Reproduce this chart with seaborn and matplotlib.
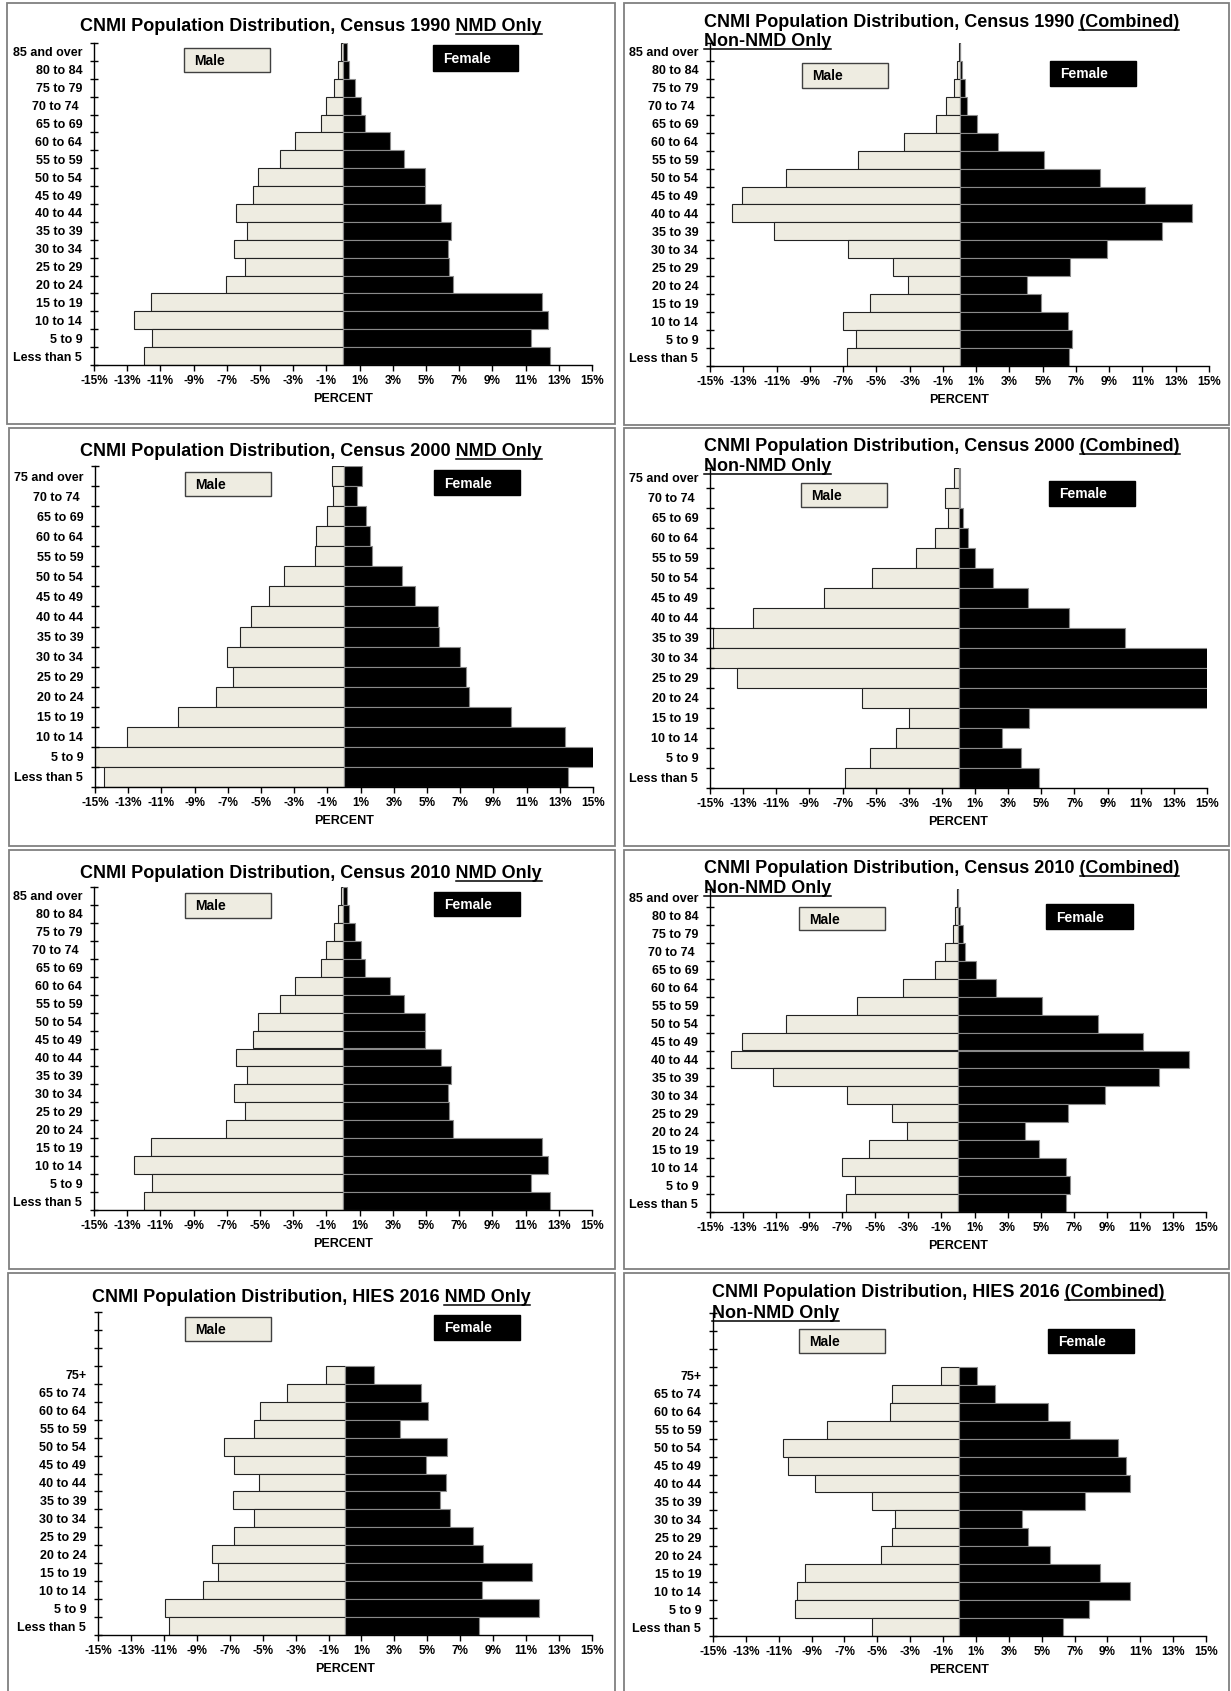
import numpy as np
import pandas as pd
import matplotlib
matplotlib.use("Agg")
import matplotlib.pyplot as plt
import seaborn as sns
from matplotlib.patches import Rectangle
from matplotlib.lines import Line2D

# ---------------- data ----------------
ages_18 = ["85 and over", "80 to 84", "75 to 79", "70 to 74 ", "65 to 69", "60 to 64",
           "55 to 59", "50 to 54", "45 to 49", "40 to 44", "35 to 39", "30 to 34",
           "25 to 29", "20 to 24", "15 to 19", "10 to 14", "5 to 9", "Less than 5"]
ages_16 = ["75 and over", "70 to 74 ", "65 to 69", "60 to 64", "55 to 59", "50 to 54",
           "45 to 49", "40 to 44", "35 to 39", "30 to 34", "25 to 29", "20 to 24",
           "15 to 19", "10 to 14", "5 to 9", "Less than 5"]
ages_hies = ["75+", "65 to 74", "60 to 64", "55 to 59", "50 to 54", "45 to 49",
             "40 to 44", "35 to 39", "30 to 34", "25 to 29", "20 to 24", "15 to 19",
             "10 to 14", "5 to 9", "Less than 5"]

male_1990_nmd = [0.12, 0.28, 0.57, 1.0, 1.32, 2.88, 3.82, 5.14, 5.45, 6.42, 5.78, 6.58,
                 5.92, 7.05, 11.58, 12.59, 11.51, 11.96]
female_1990_nmd = [0.22, 0.38, 0.75, 1.08, 1.32, 2.83, 3.7, 4.93, 4.93, 5.9, 6.49, 6.3,
                   6.37, 6.65, 11.98, 12.36, 11.34, 12.45]
male_1990_non = [0.05, 0.17, 0.31, 0.8, 1.42, 3.35, 6.1, 10.42, 13.07, 13.7, 11.18, 6.7,
                 3.99, 3.11, 5.38, 7.0, 6.25, 6.75]
female_1990_non = [0.03, 0.14, 0.31, 0.45, 1.06, 2.29, 5.07, 8.47, 11.16, 13.99, 12.17, 8.87,
                   6.63, 4.06, 4.88, 6.51, 6.79, 6.56]

male_2000_nmd = [0.71, 0.69, 1.04, 1.7, 1.77, 3.64, 4.49, 5.6, 6.24, 7.04, 6.69, 7.72,
                 9.99, 13.09, 15.4, 14.46]
female_2000_nmd = [1.06, 0.78, 1.32, 1.58, 1.7, 3.47, 4.3, 5.65, 5.72, 6.97, 7.37, 7.54,
                   10.04, 13.32, 15.3, 13.49]
male_2000_non = [0.26, 0.83, 0.64, 1.44, 2.58, 5.23, 8.09, 12.4, 14.81, 15.6, 13.37, 5.8,
                 2.96, 3.79, 5.35, 6.86]
female_2000_non = [0.12, 0.09, 0.28, 0.59, 0.99, 2.1, 4.19, 6.67, 10.05, 17.5, 16.8, 15.9,
                   4.26, 2.63, 3.76, 4.87]

male_2010_nmd = [0.12, 0.28, 0.57, 1.0, 1.32, 2.88, 3.82, 5.14, 5.45, 6.42, 5.78, 6.58,
                 5.92, 7.05, 11.58, 12.59, 11.51, 11.96]
female_2010_nmd = [0.22, 0.38, 0.75, 1.08, 1.32, 2.83, 3.7, 4.93, 4.93, 5.9, 6.49, 6.3,
                   6.37, 6.65, 11.98, 12.36, 11.34, 12.45]
male_2010_non = [0.05, 0.17, 0.31, 0.8, 1.42, 3.35, 6.1, 10.42, 13.07, 13.7, 11.18, 6.7,
                 3.99, 3.11, 5.38, 7.0, 6.25, 6.75]
female_2010_non = [0.03, 0.14, 0.31, 0.45, 1.06, 2.29, 5.07, 8.47, 11.16, 13.99, 12.17, 8.87,
                   6.63, 4.06, 4.88, 6.51, 6.79, 6.56]

male_2016_nmd = [1.17, 3.5, 5.14, 5.52, 7.33, 6.76, 5.21, 6.81, 5.52, 6.76, 8.1, 7.69,
                 8.64, 10.95, 10.67]
female_2016_nmd = [1.76, 4.62, 5.07, 3.33, 6.19, 4.9, 6.14, 5.79, 6.36, 7.76, 8.4, 11.33,
                   8.33, 11.76, 8.12]
male_2016_non = [1.14, 4.1, 4.22, 8.08, 10.76, 10.42, 8.78, 5.34, 3.94, 4.08, 4.75, 9.4,
                 9.87, 10.02, 5.34]
female_2016_non = [1.07, 2.15, 5.37, 6.7, 9.66, 10.14, 10.37, 7.61, 3.79, 4.15, 5.53, 8.56,
                   10.37, 7.85, 6.27]

x_ticks = list(range(-15, 16, 2))
x_tick_labels = [f"{t}%" for t in x_ticks]

title_left = ["CNMI Population Distribution, Census 1990 NMD Only",
              "CNMI Population Distribution, Census 2000 NMD Only",
              "CNMI Population Distribution, Census 2010 NMD Only",
              "CNMI Population Distribution, HIES 2016 NMD Only"]
title_right = ["CNMI Population Distribution, Census 1990 (Combined)",
               "CNMI Population Distribution, Census 2000 (Combined)",
               "CNMI Population Distribution, Census 2010 (Combined)",
               "CNMI Population Distribution, HIES 2016 (Combined)"]

# ---------------- style ----------------
plt.rcParams["font.family"] = ["Liberation Sans", "DejaVu Sans"]
plt.rcParams["font.weight"] = "bold"
MALE_C = "#EEECE1"
FEMALE_C = "#000000"

W, H = 1231, 1691
fig = plt.figure(figsize=(W / 100, H / 100), dpi=100)
fig.patch.set_facecolor("white")


def fx(px):
    return px / W


def fy(py):
    return 1 - py / H


def rect(x0, y0, x1, y1, **kw):
    fig.add_artist(Rectangle((fx(x0), fy(y1)), (x1 - x0) / W, (y1 - y0) / H,
                             transform=fig.transFigure, **kw))


# panel frames
frames = [(7, 3, 615, 424), (624, 3, 1229, 425),
          (9, 428, 615, 846), (624, 428, 1229, 846),
          (9, 850, 615, 1269), (624, 850, 1229, 1269),
          (8, 1273, 615, 1705), (624, 1273, 1229, 1705)]
for f in frames:
    rect(*f, facecolor="none", edgecolor="#808080", lw=1.3)

panels = [
    dict(ages=ages_18, m=male_1990_nmd, f=female_1990_nmd, empty=0, box=(94, 43, 592, 365)),
    dict(ages=ages_18, m=male_1990_non, f=female_1990_non, empty=0, box=(710, 43, 1209, 366)),
    dict(ages=ages_16, m=male_2000_nmd, f=female_2000_nmd, empty=0, box=(95, 466, 593, 787)),
    dict(ages=ages_16, m=male_2000_non, f=female_2000_non, empty=0, box=(710, 468, 1207, 788)),
    dict(ages=ages_18, m=male_2010_nmd, f=female_2010_nmd, empty=0, box=(94, 887, 592, 1210)),
    dict(ages=ages_18, m=male_2010_non, f=female_2010_non, empty=0, box=(710, 889, 1206, 1212)),
    dict(ages=ages_hies, m=male_2016_nmd, f=female_2016_nmd, empty=3, box=(98, 1312, 592, 1635)),
    dict(ages=ages_hies, m=male_2016_non, f=female_2016_non, empty=3, box=(713, 1313, 1206, 1636)),
]

legend_boxes = [((184, 48, 270, 72), (433, 45, 518, 71)),
                ((802, 63, 888, 88), (1050, 61, 1136, 86)),
                ((185, 472, 271, 496), (434, 470, 520, 495)),
                ((801, 483, 887, 507), (1049, 481, 1135, 506)),
                ((185, 893, 271, 918), (434, 892, 520, 916)),
                ((799, 907, 885, 930), (1046, 904, 1133, 929)),
                ((185, 1317, 271, 1341), (434, 1315, 520, 1340)),
                ((799, 1329, 885, 1353), (1048, 1329, 1134, 1353))]

for p in panels:
    x0, y0, x1, y1 = p["box"]
    ax = fig.add_axes([fx(x0), fy(y1), (x1 - x0) / W, (y1 - y0) / H])
    ax.set_facecolor("none")
    ages = p["ages"]
    n = len(ages)
    df = pd.DataFrame({"age": ages,
                       "male": [-v for v in p["m"]],
                       "female": p["f"]})
    sns.barplot(data=df, y="age", x="male", order=ages, color=MALE_C, saturation=1,
                width=1.0, edgecolor="#222222", linewidth=0.8, errorbar=None,
                orient="h", ax=ax)
    sns.barplot(data=df, y="age", x="female", order=ages, color=FEMALE_C, saturation=1,
                width=1.0, edgecolor="#8a8a8a", linewidth=0.8, errorbar=None,
                orient="h", ax=ax)
    ax.set_xlim(-15, 15)
    ax.set_ylim(n - 0.5, -0.5 - p["empty"])
    ax.set_xticks(x_ticks)
    ax.set_xticklabels(x_tick_labels, fontsize=8.5, fontweight="bold")
    ax.set_yticks(range(n))
    ax.set_yticklabels(ages, fontsize=9, fontweight="bold")
    ax.set_yticks(np.arange(-0.5 - p["empty"], n, 1), minor=True)
    ax.tick_params(axis="y", which="major", length=0, pad=8.5, left=True)
    ax.tick_params(axis="y", which="minor", length=6, direction="inout", width=1, left=True)
    ax.tick_params(axis="x", which="major", length=4, direction="out", width=1, pad=3.5,
                   bottom=True)
    ax.set_xlabel("PERCENT", fontsize=9, fontweight="bold", labelpad=4)
    ax.set_ylabel("")
    for s in ["top", "right"]:
        ax.spines[s].set_visible(False)
    for s in ["left", "bottom"]:
        ax.spines[s].set_color("black")
        ax.spines[s].set_linewidth(1.0)

for (mb, fb) in legend_boxes:
    rect(*mb, facecolor=MALE_C, edgecolor="#404040", lw=1.0)
    fig.text(fx(mb[0] + 10), fy((mb[1] + mb[3]) / 2 + 1), "Male", fontsize=10,
             fontweight="bold", ha="left", va="center", color="black")
    rect(*fb, facecolor=FEMALE_C, edgecolor=FEMALE_C, lw=1.0)
    fig.text(fx(fb[0] + 10), fy((fb[1] + fb[3]) / 2 + 1), "Female", fontsize=10,
             fontweight="bold", ha="left", va="center", color="white")

# titles
underlines = []
left_base = [31, 456, 878, 1302]
for t, yb in zip(title_left, left_base):
    txt = fig.text(fx(311), fy(yb), t, fontsize=13, fontweight="bold", ha="center",
                   va="baseline")
    underlines.append((txt, "NMD Only", yb))

right_base = [(27, 46, 704), (451, 471, 704), (873, 893, 704), (1297, 1318, 712)]
for t, (yb1, yb2, xs) in zip(title_right, right_base):
    txt = fig.text(fx(xs), fy(yb1), t, fontsize=13, fontweight="bold", ha="left",
                   va="baseline")
    underlines.append((txt, "(Combined)", yb1))
    txt2 = fig.text(fx(xs), fy(yb2), "Non-NMD Only", fontsize=13, fontweight="bold",
                    ha="left", va="baseline")
    underlines.append((txt2, "Non-NMD Only", yb2))

renderer = fig.canvas.get_renderer()
for txt, part, yb in underlines:
    bb = txt.get_window_extent(renderer)
    tmp = fig.text(0, 0, part, fontsize=13, fontweight="bold")
    w = tmp.get_window_extent(renderer).width
    tmp.remove()
    xa, xb = bb.x1 - w, bb.x1
    yl = yb + 2.8
    fig.add_artist(Line2D([xa / W, xb / W], [fy(yl), fy(yl)], transform=fig.transFigure,
                          color="black", lw=1.1))

fig.savefig("out.png", dpi=100, facecolor="white")
